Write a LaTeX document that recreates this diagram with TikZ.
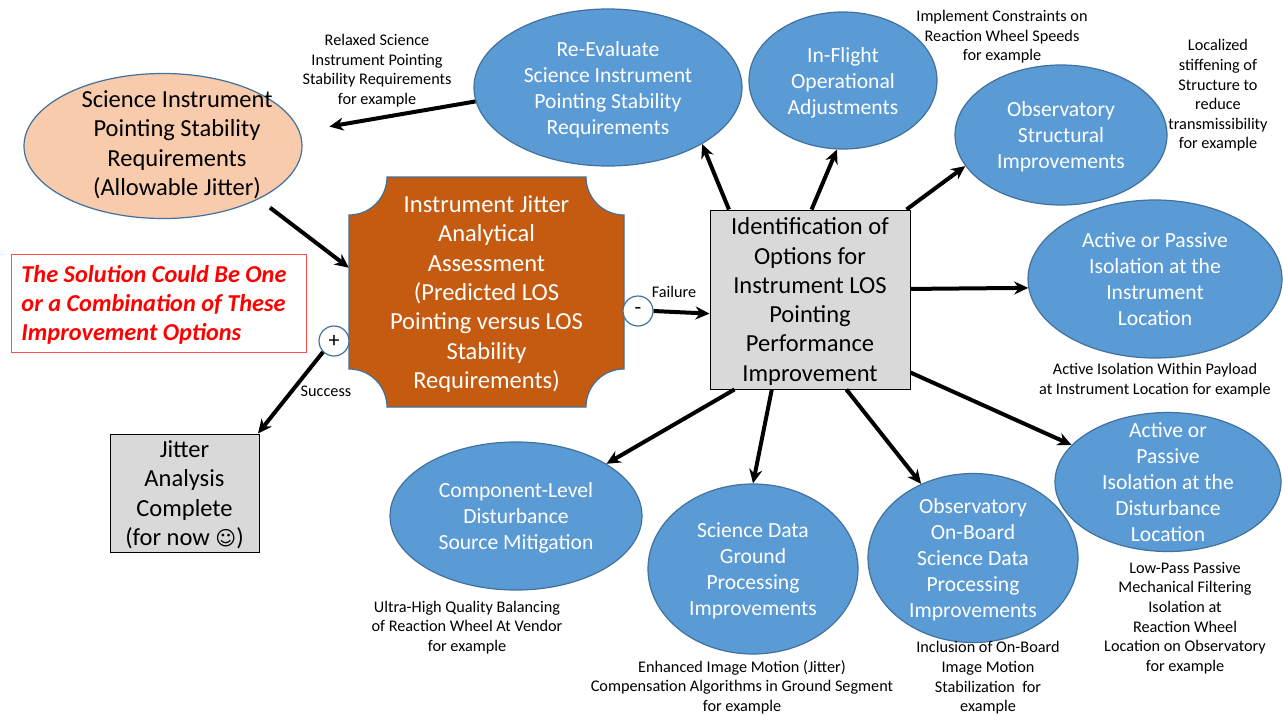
\documentclass[tikz,border=0pt]{standalone}
\usepackage{fontspec}
\setmainfont{Carlito}
\newfontfamily\symfont{DejaVu Sans}
\usetikzlibrary{arrows.meta,shapes.geometric}
\definecolor{optblue}{HTML}{5B9BD5}
\definecolor{optline}{HTML}{41719C}
\definecolor{burnt}{HTML}{C55A11}
\definecolor{peach}{HTML}{F8CBAD}
\definecolor{boxgray}{HTML}{D9D9D9}
\begin{document}
\begin{tikzpicture}[x=1pt,y=-1pt,
    option/.style={ellipse,draw=optline,fill=optblue,line width=1.2pt,text=white,inner sep=-30pt,align=center,text depth=-1pt,font=\fontsize{21.6}{26}\selectfont},
    bigtext/.style={inner sep=0pt,align=center,text depth=-1pt,font=\fontsize{24.5}{29.3}\selectfont},
    greybox/.style={bigtext,draw=black,fill=boxgray,line width=1pt},
    note/.style={align=center,inner sep=0pt,font=\fontsize{16.25}{19.6}\selectfont},
    sign/.style={circle,draw=optline,fill=white,line width=1.2pt,minimum size=30pt,inner sep=0pt,font=\fontsize{22}{22}\selectfont},
    link/.style={line width=4pt,-{Stealth[length=14pt,width=13pt]}}]
\useasboundingbox (0,0) rectangle (1283,715);
\fill[white] (0,0) rectangle (1283,715);
\node[ellipse,draw=optline,fill=peach,line width=1.2pt,inner sep=0pt,minimum width=278pt,minimum height=145pt] (science) at (163,146) {};
\node[bigtext] (sciencetext) at (177,143) {Science Instrument\\Pointing Stability\\Requirements\\(Allowable Jitter)};
\node[option,minimum width=268pt,minimum height=157pt] (reeval) at (608,87.5) {Re-Evaluate\\Science Instrument\\Pointing Stability\\Requirements};
\node[option,minimum width=188pt,minimum height=137pt] (inflight) at (843,80.5) {In-Flight\\Operational\\Adjustments};
\node[option,text depth=1pt,minimum width=212pt,minimum height=140pt] (structural) at (1061,135) {Observatory\\Structural\\Improvements};
\node[option,minimum width=254pt,minimum height=158pt] (instrument) at (1155,279) {Active or Passive\\Isolation at the\\Instrument\\Location};
\node[option,minimum width=226pt,minimum height=139pt] (disturbance) at (1168,482) {Active or\\Passive\\Isolation at the\\Disturbance\\Location};
\node[option,minimum width=210pt,minimum height=169pt] (onboard) at (973,558) {Observatory\\On-Board\\Science Data\\Processing\\Improvements};
\node[option,text depth=-9pt,minimum width=210pt,minimum height=170pt] (ground) at (753,569) {Science Data\\Ground\\Processing\\Improvements};
\node[option,text depth=1pt,minimum width=252pt,minimum height=148pt] (component) at (516,516) {Component-Level\\Disturbance\\Source Mitigation};
\draw[draw=optline,fill=burnt,line width=1.2pt] (387,177) -- (586,177) arc[start angle=180,end angle=270,radius=38pt]
    -- (624,369) arc[start angle=90,end angle=180,radius=38pt]
    -- (387,407) arc[start angle=0,end angle=90,radius=38pt]
    -- (349,215) arc[start angle=270,end angle=360,radius=38pt] -- cycle;
\node[bigtext,minimum width=275pt,minimum height=230pt,text=white] (assess) at (486.5,292) {Instrument Jitter\\Analytical\\Assessment\\(Predicted LOS\\Pointing versus LOS\\Stability\\Requirements)};
\node[greybox,minimum width=200pt,minimum height=179pt] (options) at (810,299.5) {Identification of\\Options for\\Instrument LOS\\Pointing\\Performance\\Improvement};
\node[greybox,minimum width=149pt,minimum height=118pt] (complete) at (184.5,493) {Jitter\\Analysis\\Complete\\(for now {\symfont\fontsize{20}{20}\selectfont ☺})};
\node[draw=red!70!white,fill=white,line width=1pt,minimum width=295pt,minimum height=98pt,inner sep=0pt,align=left,text depth=0pt,text=red,font=\fontsize{24.3}{29.3}\selectfont\bfseries\itshape] (combo) at (158.5,303) {The Solution Could Be One\hspace*{9pt}\\or a Combination of These\\Improvement Options};
\node[sign] (plus) at (334,341) {+};
\node[sign] (minus) at (638,311) {-};
\node[note] (n1) at (377,70.5) {Relaxed Science\\Instrument Pointing\\Stability Requirements\\for example};
\node[note] (n2) at (1002,37) {Implement Constraints on\\Reaction Wheel Speeds\\for example};
\node[note] (n3) at (1218,95.5) {Localized\\stiffening of\\Structure to\\reduce\\transmissibility\\for example};
\node[note] (n4) at (1155,380) {Active Isolation Within Payload\\at Instrument Location for example};
\node[note] (n5) at (1185,618) {Low-Pass Passive\\Mechanical Filtering\\Isolation at\\Reaction Wheel\\Location on Observatory\\for example};
\node[note] (n6) at (988,678) {Inclusion of On-Board\\Image Motion\\Stabilization~ for\\example};
\node[note] (n7) at (742,687) {Enhanced Image Motion (Jitter)\\Compensation Algorithms in Ground Segment\\for example};
\node[note] (n8) at (467,627.5) {Ultra-High Quality Balancing\\of Reaction Wheel At Vendor\\for example};
\node[note] (failure) at (674,292) {Failure};
\node[note] (success) at (326,391) {Success};
\draw[link] (options.132) -- (reeval.-31);
\draw[link] (options.89) -- (inflight.-95);
\draw[link] (options.43) -- (structural.198.4);
\draw[link] (options.6.6) -- (instrument.184);
\draw[link] (options.-36.9) -- (disturbance.159.3);
\draw[link] (options.-68) -- (onboard.125);
\draw[link] (options.-113.5) -- (ground.90);
\draw[link] (options.-130.3) -- (component.30.2);
\draw[link,shorten >=30pt] (reeval.186) -- (science.6.7);
\draw[link,shorten <=14pt] (science.-29.5) -- (assess.170);
\draw[link] (minus.east) -- (options.188);
\draw[link] (plus.225) -- (complete.39.5);
\end{tikzpicture}
\end{document}
